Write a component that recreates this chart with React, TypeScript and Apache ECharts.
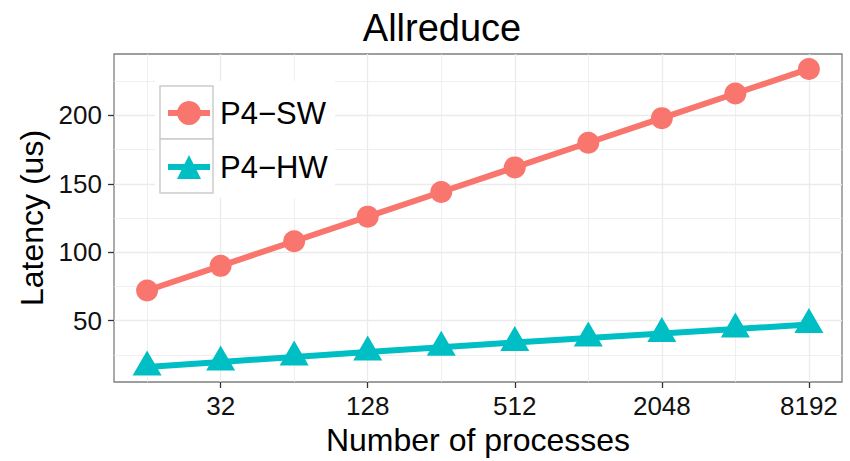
import React, { useEffect, useRef } from "react";
import * as echarts from "echarts";

// Process counts (log2 x axis) and measured allreduce latencies in microseconds
const processes = [16, 32, 64, 128, 256, 512, 1024, 2048, 4096, 8192];
const swLatency = [72, 90, 108, 126, 144, 162, 180, 198, 216, 234];
const hwLatency = [16, 19.7, 23.4, 27, 30.5, 34, 37.3, 40.6, 43.8, 47.2];

// Labelled breaks and the lighter in-between grid lines
const xBreaks = [32, 128, 512, 2048, 8192];
const xMinorBreaks = [16, 64, 256, 1024, 4096];
const yBreaks = [50, 100, 150, 200];
const yMinorBreaks = [25, 75, 125, 175, 225];

const FONT = "'Liberation Sans', Arial, Helvetica, sans-serif";
const SW_COLOR = "#F8766D";
const HW_COLOR = "#00BFC4";
const GRID_COLOR = "#ebebeb";

export default function App() {
  const ref = useRef<HTMLDivElement>(null);

  useEffect(() => {
    if (!ref.current) return;
    const chart = echarts.init(ref.current, null, { renderer: "svg" });

    const toPairs = (ys: number[]) => processes.map((x, i) => [x, ys[i]]);

    const minorGrid = [
      ...xMinorBreaks.map((v) => ({ xAxis: v })),
      ...yMinorBreaks.map((v) => ({ yAxis: v })),
    ];

    chart.setOption({
      animation: false,
      backgroundColor: "#ffffff",
      textStyle: { fontFamily: FONT },
      title: {
        text: "Allreduce",
        left: 437,
        top: 4,
        textAlign: "center",
        textStyle: { fontFamily: FONT, fontSize: 38, fontWeight: "normal", color: "#000" },
      },
      grid: {
        left: 114,
        right: 8,
        top: 54,
        bottom: 79,
        show: true,
        backgroundColor: "#ffffff",
        borderColor: "#7f7f7f",
        borderWidth: 1.3,
      },
      legend: {
        orient: "vertical",
        left: 165,
        top: 97.5,
        padding: 0,
        itemWidth: 42,
        itemHeight: 30,
        itemGap: 23,
        selectedMode: false,
        lineStyle: { width: 6 },
        textStyle: { fontFamily: FONT, fontSize: 31, color: "#000", padding: [0, 0, 0, 5] },
        data: ["P4\u2212SW", "P4\u2212HW"],
      },
      graphic: [
        {
          type: "rect",
          z: 3,
          shape: { x: 155, y: 81, width: 180, height: 117 },
          style: { fill: "#ffffff" },
        },
        {
          type: "rect",
          z: 3,
          shape: { x: 160, y: 86, width: 53, height: 53 },
          style: { fill: "#ffffff", stroke: "#cccccc", lineWidth: 1.5 },
        },
        {
          type: "rect",
          z: 3,
          shape: { x: 160, y: 139, width: 53, height: 54 },
          style: { fill: "#ffffff", stroke: "#cccccc", lineWidth: 1.5 },
        },
      ],
      xAxis: {
        type: "log",
        logBase: 2,
        min: Math.pow(2, 3.55),
        max: Math.pow(2, 13.45),
        name: "Number of processes",
        nameLocation: "middle",
        nameGap: 36,
        nameTextStyle: { fontFamily: FONT, fontSize: 32, color: "#000" },
        axisLine: { show: false },
        axisTick: {
          show: true,
          length: 6,
          customValues: xBreaks,
          lineStyle: { color: "#333", width: 1.3 },
        },
        axisLabel: {
          customValues: xBreaks,
          formatter: (v: number) => String(Math.round(v)),
          margin: 11,
          fontFamily: FONT,
          fontSize: 26,
          color: "#111",
        },
        splitLine: { show: true, lineStyle: { color: GRID_COLOR, width: 1.3 } },
      },
      yAxis: {
        type: "value",
        min: 5.1,
        max: 244.9,
        name: "Latency (us)",
        nameLocation: "middle",
        nameGap: 66,
        nameTextStyle: { fontFamily: FONT, fontSize: 32, color: "#000" },
        axisLine: { show: false },
        axisTick: {
          show: true,
          length: 6,
          customValues: yBreaks,
          lineStyle: { color: "#333", width: 1.3 },
        },
        axisLabel: {
          customValues: yBreaks,
          margin: 12,
          fontFamily: FONT,
          fontSize: 26,
          color: "#111",
        },
        splitLine: { show: true, lineStyle: { color: GRID_COLOR, width: 1.3 } },
      },
      series: [
        {
          name: "P4\u2212SW",
          type: "line",
          z: 4,
          data: toPairs(swLatency),
          symbol: "circle",
          symbolSize: 22,
          lineStyle: { color: SW_COLOR, width: 6 },
          itemStyle: { color: SW_COLOR },
          markLine: {
            silent: true,
            z: 1,
            symbol: "none",
            label: { show: false },
            lineStyle: { color: GRID_COLOR, width: 0.8, type: "solid" },
            data: minorGrid,
          },
        },
        {
          name: "P4\u2212HW",
          type: "line",
          z: 4,
          data: toPairs(hwLatency),
          symbol: "triangle",
          symbolSize: [29, 25],
          symbolOffset: [0, -4],
          lineStyle: { color: HW_COLOR, width: 6 },
          itemStyle: { color: HW_COLOR },
        },
      ],
    });

    return () => chart.dispose();
  }, []);

  return <div ref={ref} style={{ width: 850, height: 461, position: "absolute", left: 0, top: 0 }} />;
}
